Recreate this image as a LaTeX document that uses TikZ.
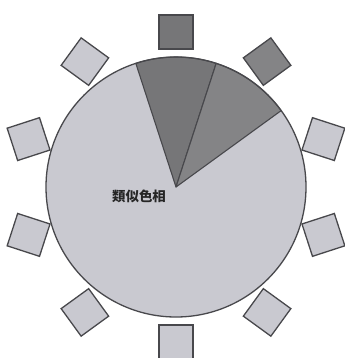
\documentclass[tikz,border=0pt]{standalone}
\usepackage{fontspec}
\newfontfamily\cjk{Noto Sans CJK JP}
\definecolor{lightfill}{RGB}{201,201,208}
\definecolor{darkA}{RGB}{118,118,120}
\definecolor{darkB}{RGB}{132,132,134}
\definecolor{edge}{RGB}{72,72,76}
\tikzset{
  sq/.style={draw=edge, line width=1.3bp, minimum size=34bp, inner sep=0pt, shape=rectangle},
  wedge/.style={draw=edge, line width=1.1bp, line join=round}
}
\begin{document}
\begin{tikzpicture}[x=1bp,y=-1bp]
\useasboundingbox (0,0) rectangle (345,358);
\fill[white] (0,0) rectangle (345,358);
\coordinate (c) at (176,187);
\fill[lightfill] (c) circle[radius=130];
% wedges (y axis flipped: use negative angles)
\filldraw[wedge, fill=darkA] (c) -- ([shift={(-108:130)}]c) arc[start angle=-108, end angle=-72, radius=130] -- cycle;
\filldraw[wedge, fill=darkB] (c) -- ([shift={(-72:130)}]c) arc[start angle=-72, end angle=-36, radius=130] -- cycle;
\draw[edge, line width=1.3bp] (c) circle[radius=130];
% squares
\foreach \a/\f [count=\i] in {90/darkA,54/darkB,18/lightfill,-18/lightfill,-54/lightfill,-90/lightfill,-126/lightfill,-162/lightfill,162/lightfill,126/lightfill}{
  \node[sq, fill=\f, rotate=-\a] (s\i) at ([shift={(-\a:155)}]c) {};
}
\node[font=\cjk\bfseries\fontsize{13.5}{15}\selectfont, text=black!85, inner sep=0pt] (lbl) at (139,196) {類似色相};
\end{tikzpicture}
\end{document}
